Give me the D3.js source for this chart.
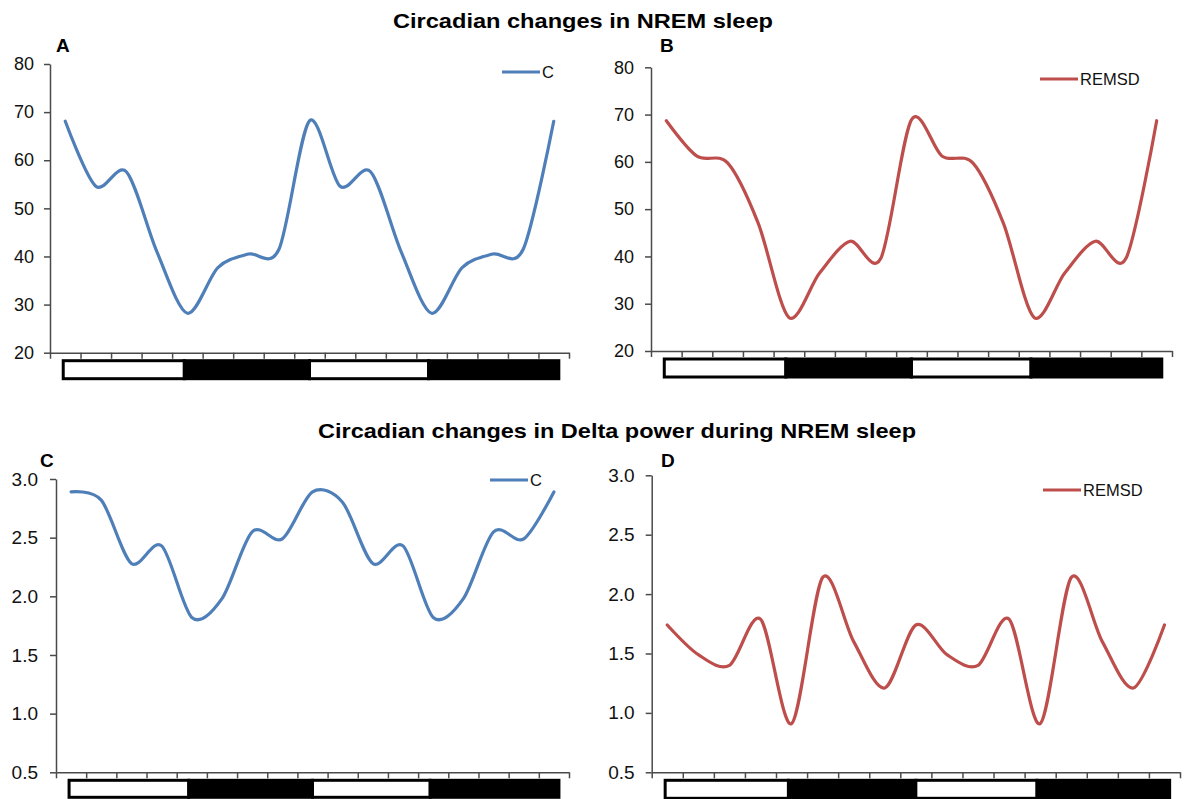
<!DOCTYPE html>
<html>
<head>
<meta charset="utf-8">
<script src="https://cdn.jsdelivr.net/npm/d3@7"></script>
<style>
  body { margin: 0; background: #fff; }
  svg { display: block; font-family: Arial, "Liberation Sans", sans-serif; }
</style>
</head>
<body>
<svg id="chart" width="1187" height="799"></svg>
<script>
'use strict';

// ZT hours, double plotted 0..48 every 3 h
var hours = d3.range(0, 49, 3);

var nremC      = [68.1, 54.6, 57.6, 41.0, 28.2, 37.7, 40.5, 41.5, 68.2, 54.6, 57.6, 41.0, 28.2, 37.7, 40.5, 41.5, 68.1];
var nremREMSD  = [68.7, 61.2, 59.8, 47.0, 27.1, 36.5, 43.2, 39.6, 68.9, 61.2, 59.8, 47.0, 27.1, 36.5, 43.2, 39.6, 68.7];
var deltaC     = [2.89, 2.82, 2.28, 2.43, 1.82, 1.98, 2.55, 2.49, 2.89, 2.80, 2.28, 2.43, 1.82, 1.98, 2.55, 2.49, 2.89];
var deltaREMSD = [1.74, 1.49, 1.40, 1.79, 0.91, 2.14, 1.60, 1.21, 1.74, 1.49, 1.40, 1.79, 0.91, 2.14, 1.60, 1.21, 1.74];

var nremTicks  = [20, 30, 40, 50, 60, 70, 80];
var deltaTicks = [0.5, 1.0, 1.5, 2.0, 2.5, 3.0];

// light / dark phases (ZT hours)
var phases = [
    { phase: 'light', from: -0.2, to: 11.7 },
    { phase: 'dark',  from: 11.7, to: 24.0 },
    { phase: 'light', from: 24.0, to: 35.7 },
    { phase: 'dark',  from: 35.7, to: 48.5 }
];

var titles = ['Circadian changes in NREM sleep', 'Circadian changes in Delta power during NREM sleep'];

var blue = '#4f7fb8';
var red = '#bd4e4c';
var axisColor = '#4a4a4a';

var svg = d3.select('#chart');

svg.append('text')
    .attr('x', 583).attr('y', 28)
    .attr('text-anchor', 'middle')
    .attr('textLength', 380).attr('lengthAdjust', 'spacingAndGlyphs')
    .style('font-size', '21px').style('font-weight', 'bold')
    .text(titles[0]);

svg.append('text')
    .attr('x', 617).attr('y', 438)
    .attr('text-anchor', 'middle')
    .attr('textLength', 598).attr('lengthAdjust', 'spacingAndGlyphs')
    .style('font-size', '21px').style('font-weight', 'bold')
    .text(titles[1]);

var panels = [
    { letter: 'A', values: nremC, name: 'C', color: blue, ticks: nremTicks, fmt: d3.format('d'),
      x0: 50, x1: 569, yTop: 64, yBot: 352.7, fs: 18, pad: 10,
      lx: 56, ly: 52, legX: 502, legY: 72, barH: 18 },
    { letter: 'B', values: nremREMSD, name: 'REMSD', color: red, ticks: nremTicks, fmt: d3.format('d'),
      x0: 651, x1: 1172, yTop: 67.3, yBot: 351, fs: 18, pad: 11,
      lx: 660, ly: 52, legX: 1040, legY: 79, barH: 18 },
    { letter: 'C', values: deltaC, name: 'C', color: blue, ticks: deltaTicks, fmt: d3.format('.1f'),
      x0: 56, x1: 569, yTop: 479, yBot: 772.3, fs: 19, pad: 12,
      lx: 40, ly: 467, legX: 490, legY: 480, barH: 17 },
    { letter: 'D', values: deltaREMSD, name: 'REMSD', color: red, ticks: deltaTicks, fmt: d3.format('.1f'),
      x0: 651.7, x1: 1180, yTop: 475.3, yBot: 772.3, fs: 19, pad: 11,
      lx: 661, ly: 467, legX: 1043, legY: 490, barH: 18 }
];

panels.forEach(drawPanel);

function drawPanel(p) {
    var g = svg.append('g');

    var x = d3.scaleLinear().domain([-1.5, 49.5]).range([p.x0, p.x1]);
    var y = d3.scaleLinear()
        .domain([p.ticks[0], p.ticks[p.ticks.length - 1]])
        .range([p.yBot, p.yTop]);

    // y axis
    var yAxis = g.append('g')
        .attr('transform', 'translate(' + p.x0 + ',0)')
        .call(d3.axisLeft(y).tickValues(p.ticks).tickFormat(p.fmt)
            .tickSize(6).tickSizeOuter(0).tickPadding(p.pad));
    yAxis.select('.domain').attr('stroke', axisColor).attr('stroke-width', 1.5);
    yAxis.selectAll('.tick line').attr('stroke', axisColor).attr('stroke-width', 1.5);
    yAxis.selectAll('.tick text')
        .attr('fill', '#111')
        .style('font-size', p.fs + 'px')
        .style('font-family', 'Arial, "Liberation Sans", sans-serif');

    // x axis: ticks at category boundaries, no labels
    var boundaries = d3.range(18).map(function (k) { return -1.5 + 3 * k; });
    var xAxis = g.append('g')
        .attr('transform', 'translate(0,' + p.yBot + ')')
        .call(d3.axisBottom(x).tickValues(boundaries).tickFormat('')
            .tickSize(6).tickSizeOuter(0));
    xAxis.select('.domain').attr('stroke', axisColor).attr('stroke-width', 1.5);
    xAxis.selectAll('.tick line').attr('stroke', axisColor).attr('stroke-width', 1.5);

    // light / dark bar
    var barTop = p.yBot + 8;
    g.selectAll('.phase')
        .data(phases)
        .enter().append('rect')
        .attr('class', 'phase')
        .attr('x', function (d) { return x(d.from); })
        .attr('y', barTop)
        .attr('width', function (d) { return x(d.to) - x(d.from); })
        .attr('height', p.barH)
        .attr('fill', function (d) { return d.phase === 'light' ? '#fff' : '#000'; })
        .attr('stroke', '#000')
        .attr('stroke-width', 3);

    // curve
    var line = d3.line()
        .x(function (d, i) { return x(hours[i]); })
        .y(function (d) { return y(d); })
        .curve(d3.curveCardinal.tension(0.1));

    g.append('path')
        .datum(p.values)
        .attr('d', line)
        .attr('fill', 'none')
        .attr('stroke', p.color)
        .attr('stroke-width', 3.2)
        .attr('stroke-linejoin', 'round')
        .attr('stroke-linecap', 'round');

    // panel letter
    g.append('text')
        .attr('x', p.lx).attr('y', p.ly)
        .style('font-size', '19px').style('font-weight', 'bold')
        .text(p.letter);

    // legend
    g.append('line')
        .attr('x1', p.legX).attr('x2', p.legX + 38)
        .attr('y1', p.legY).attr('y2', p.legY)
        .attr('stroke', p.color).attr('stroke-width', 3.2);
    g.append('text')
        .attr('x', p.legX + 40).attr('y', p.legY)
        .attr('dy', '0.36em')
        .style('font-size', '16.5px')
        .attr('fill', '#111')
        .text(p.name);
}
</script>
</body>
</html>
